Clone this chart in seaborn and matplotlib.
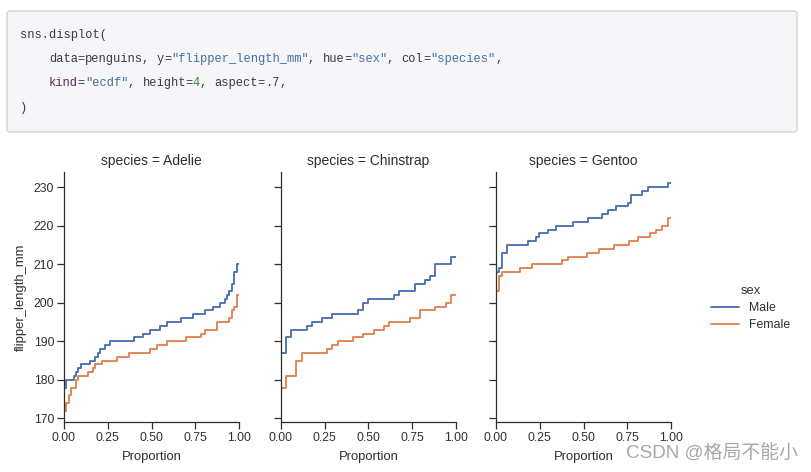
import numpy as np
import pandas as pd
import matplotlib
matplotlib.use("Agg")
import matplotlib.pyplot as plt
from matplotlib.patches import FancyBboxPatch
from matplotlib.lines import Line2D
from matplotlib.ticker import FormatStrFormatter
import seaborn as sns

# ---------------- data (value -> count) ----------------
species = ["Adelie", "Chinstrap", "Gentoo"]
sexes = ["Male", "Female"]
colors = ["#4C72B0", "#DD8452"]

adelie_male_mm = [178, 180, 181, 182, 183, 184, 185, 186, 187, 188, 189, 190, 191, 192,
                  193, 194, 195, 196, 197, 198, 199, 200, 201, 202, 203, 205, 208, 210]
adelie_male_n = [1, 3, 1, 1, 1, 4, 2, 1, 1, 2, 2, 10, 4, 3,
                 4, 3, 6, 5, 5, 3, 3, 2, 1, 1, 1, 1, 1, 1]
adelie_female_mm = [172, 174, 176, 178, 180, 181, 182, 183, 184, 185, 186, 187, 188,
                    189, 190, 191, 192, 193, 195, 196, 198, 199, 202]
adelie_female_n = [1, 1, 1, 2, 1, 4, 2, 1, 3, 6, 5, 9, 3,
                   4, 8, 6, 2, 5, 5, 1, 1, 1, 1]

chinstrap_male_mm = [187, 191, 193, 194, 195, 196, 197, 198, 200, 201, 202, 203, 205,
                     206, 207, 210, 212]
chinstrap_male_n = [1, 1, 3, 1, 2, 2, 5, 1, 1, 5, 1, 3, 2, 1, 1, 3, 1]
chinstrap_female_mm = [178, 181, 185, 187, 188, 189, 190, 191, 192, 193, 194, 195, 196,
                       198, 199, 200, 202]
chinstrap_female_n = [1, 2, 1, 5, 1, 1, 3, 2, 2, 2, 1, 4, 2, 3, 2, 1, 1]

gentoo_male_mm = [208, 209, 213, 215, 216, 217, 218, 219, 220, 221, 222, 223, 224, 225,
                  226, 228, 229, 230, 231]
gentoo_male_n = [1, 1, 2, 7, 3, 1, 3, 3, 6, 5, 5, 2, 3, 4, 1, 4, 2, 7, 1]
gentoo_female_mm = [203, 207, 208, 209, 210, 211, 212, 213, 214, 215, 216, 217, 218,
                    219, 220, 222]
gentoo_female_n = [1, 1, 6, 4, 10, 2, 6, 4, 5, 5, 3, 4, 2, 2, 2, 1]

yticks = [170, 180, 190, 200, 210, 220, 230]
xticks = [0.0, 0.25, 0.5, 0.75, 1.0]

groups = {
    ("Adelie", "Male"): (adelie_male_mm, adelie_male_n),
    ("Adelie", "Female"): (adelie_female_mm, adelie_female_n),
    ("Chinstrap", "Male"): (chinstrap_male_mm, chinstrap_male_n),
    ("Chinstrap", "Female"): (chinstrap_female_mm, chinstrap_female_n),
    ("Gentoo", "Male"): (gentoo_male_mm, gentoo_male_n),
    ("Gentoo", "Female"): (gentoo_female_mm, gentoo_female_n),
}
rows = []
for (sp, sx), (vals, cnts) in groups.items():
    for v in np.repeat(vals, cnts):
        rows.append({"species": sp, "sex": sx, "flipper_length_mm": float(v)})
penguins = pd.DataFrame(rows)

# ---------------- style ----------------
sns.set_theme(style="ticks")
plt.rcParams["font.family"] = ["Liberation Sans", "DejaVu Sans"]
TXT = "#2e2e2e"

W, H = 812, 472
fig = plt.figure(figsize=(W / 100, H / 100), dpi=100)

# background / code block layer in pixel coordinates
bg = fig.add_axes([0, 0, 1, 1])
bg.set_xlim(0, W)
bg.set_ylim(H, 0)
bg.axis("off")
bg.add_patch(FancyBboxPatch((7, 11), 790, 121,
                            boxstyle="round,pad=0,rounding_size=3",
                            facecolor="#f6f6f8", edgecolor="#d2d2d2", linewidth=1))

DEF, STR, NUM, KW = "#383a42", "#3f6fa6", "#3d8b3d", "#5b2a55"
code_lines = [
    (35, 0, [("sns.displot(", DEF)]),
    (59, 4, [("data", DEF), ("=", DEF), ("penguins", DEF), (", ", DEF), ("y", DEF), ("=", DEF),
             ('"flipper_length_mm"', STR), (", ", DEF), ("hue", DEF), ("=", DEF),
             ('"sex"', STR), (", ", DEF), ("col", DEF), ("=", DEF), ('"species"', STR), (",", DEF)]),
    (83, 4, [("kind", KW), ("=", DEF), ('"ecdf"', STR), (", ", DEF), ("height", DEF), ("=", DEF),
             ("4", NUM), (", ", DEF), ("aspect", DEF), ("=", DEF), (".7", DEF), (",", DEF)]),
    (108, 0, [(")", DEF)]),
]
CW = 7.2
for y, indent, toks in code_lines:
    col = indent
    for t, c in toks:
        bg.text(20 + col * CW, y, t, family="Liberation Mono", fontsize=8.64,
                color=c, va="center", ha="left")
        col += len(t)

# ---------------- facets ----------------
lefts = [64, 281, 496]
pw = 175
top_px, bot_px = 172, 422
axes = []
for i, sp in enumerate(species):
    rect = [lefts[i] / W, 1 - bot_px / H, pw / W, (bot_px - top_px) / H]
    ax = fig.add_axes(rect, sharey=axes[0] if axes else None)
    sub = penguins[penguins["species"] == sp]
    sns.ecdfplot(data=sub, y="flipper_length_mm", hue="sex", hue_order=sexes,
                 palette=colors, ax=ax, legend=False, linewidth=1.35)
    axes.append(ax)

for i, (ax, sp) in enumerate(zip(axes, species)):
    ax.set_xlim(0, 1)
    ax.set_xticks(xticks)
    ax.xaxis.set_major_formatter(FormatStrFormatter("%.2f"))
    ax.set_yticks(yticks)
    ax.set_title(f"species = {sp}", fontsize=10, color=TXT, pad=5)
    ax.set_xlabel("Proportion", fontsize=9.4, color=TXT, labelpad=5)
    ax.tick_params(axis="both", labelsize=8.8, colors=TXT, length=5, width=0.9, pad=2)
    for s in ["left", "bottom"]:
        ax.spines[s].set_linewidth(0.9)
        ax.spines[s].set_color(TXT)
    sns.despine(ax=ax)
    if i == 0:
        ax.set_ylabel("flipper_length_mm", fontsize=9.4, color=TXT, labelpad=5)
    else:
        ax.set_ylabel("")
        ax.tick_params(axis="y", labelleft=False)

# legend
handles = [Line2D([], [], color=c, linewidth=1.35) for c in colors]
leg = fig.legend(handles, sexes, title="sex", loc="center left",
                 bbox_to_anchor=(700 / W, 1 - 308 / H), frameon=False,
                 fontsize=8.8, title_fontsize=9.4, handlelength=2.3,
                 handletextpad=0.8, labelspacing=0.45)
for t in leg.get_texts():
    t.set_color(TXT)
leg.get_title().set_color(TXT)

# watermark
bg.text(626, 453, "CSDN @格局不能小", fontsize=13.6, color="#a8a8a8",
        family=["Liberation Sans", "Noto Sans CJK SC"], va="center", ha="left")

fig.savefig("out.png", dpi=100)
